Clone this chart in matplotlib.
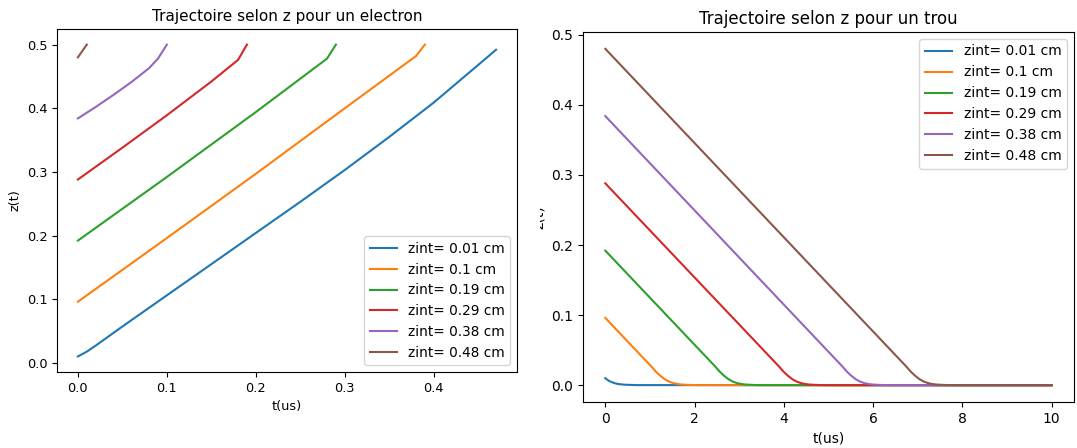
import matplotlib.pyplot as plt
from matplotlib.transforms import Bbox, TransformedBbox

# zint values (cm), legend labels
zint = [0.01, 0.096, 0.192, 0.288, 0.384, 0.48]
labels = ["zint= 0.01 cm", "zint= 0.1 cm", "zint= 0.19 cm",
          "zint= 0.29 cm", "zint= 0.38 cm", "zint= 0.48 cm"]

# electron trajectories (t in us, z in cm)
e_t = [
    [0, 0.01, 0.02, 0.05, 0.1, 0.15, 0.2, 0.25, 0.3, 0.35, 0.4, 0.46, 0.47],
    [0, 0.1, 0.2, 0.3, 0.38, 0.39],
    [0, 0.1, 0.2, 0.28, 0.29],
    [0, 0.05, 0.1, 0.15, 0.18, 0.19],
    [0, 0.02, 0.04, 0.06, 0.08, 0.09, 0.1],
    [0, 0.01],
]
e_z = [
    [0.01, 0.0175, 0.027, 0.057, 0.106, 0.155, 0.204, 0.253, 0.303, 0.355, 0.409, 0.48, 0.492],
    [0.096, 0.196, 0.297, 0.400, 0.482, 0.5],
    [0.192, 0.292, 0.394, 0.478, 0.5],
    [0.288, 0.338, 0.389, 0.442, 0.476, 0.5],
    [0.384, 0.402, 0.421, 0.441, 0.463, 0.478, 0.5],
    [0.48, 0.5],
]

# hole trajectories: linear drift then a soft knee down to 0
knee_z = [0.0268, 0.0195, 0.0135, 0.0085, 0.005, 0.0028, 0.0015, 0.0008, 0.0002, 0.0, 0.0]
h_t = [
    [0, 0.05, 0.1, 0.2, 0.3, 0.45, 0.7, 10],
    [0, 1.03, 1.13, 1.23, 1.33, 1.43, 1.53, 1.63, 1.73, 1.93, 2.23, 10],
    [0, 2.46, 2.56, 2.66, 2.76, 2.86, 2.96, 3.06, 3.16, 3.36, 3.66, 10],
    [0, 3.89, 3.99, 4.09, 4.19, 4.29, 4.39, 4.49, 4.59, 4.79, 5.09, 10],
    [0, 5.31, 5.41, 5.51, 5.61, 5.71, 5.81, 5.91, 6.01, 6.21, 6.51, 10],
    [0, 6.74, 6.84, 6.94, 7.04, 7.14, 7.24, 7.34, 7.44, 7.64, 7.94, 10],
]
h_z = [[0.01, 0.0075, 0.0055, 0.003, 0.0015, 0.0006, 0.0001, 0.0]]
for z0 in zint[1:]:
    h_z.append([z0] + knee_z)

fig = plt.figure(figsize=(10.77, 4.48), dpi=100)

# left panel (electron)
ax1 = fig.add_axes([0.0529, 0.1696, 0.4271, 0.7656])
for i in range(len(zint)):
    ax1.plot(e_t[i], e_z[i], lw=1.5, label=labels[i])
ax1.set_title("Trajectoire selon z pour un electron", fontsize=11)
ax1.set_xlabel("t(us)", fontsize=9.3)
ax1.set_ylabel("z(t)", fontsize=9.3)
ax1.tick_params(labelsize=9.3)
ax1.legend(loc="lower right", fontsize=9.8)

# right panel (hole)
ax2 = fig.add_axes([0.5413, 0.1027, 0.4559, 0.8259])
for i in range(len(zint)):
    ax2.plot(h_t[i], h_z[i], label=labels[i])
ax2.set_title("Trajectoire selon z pour un trou", fontsize=12)
ax2.set_xlabel("t(us)")
ylab = ax2.set_ylabel("z(t)")
ylab.set_clip_box(TransformedBbox(Bbox([[0.5014, 0], [1, 1]]), fig.transFigure))
ylab.set_clip_on(True)
ax2.legend(loc="upper right")

fig.savefig("out.png", dpi=100)
